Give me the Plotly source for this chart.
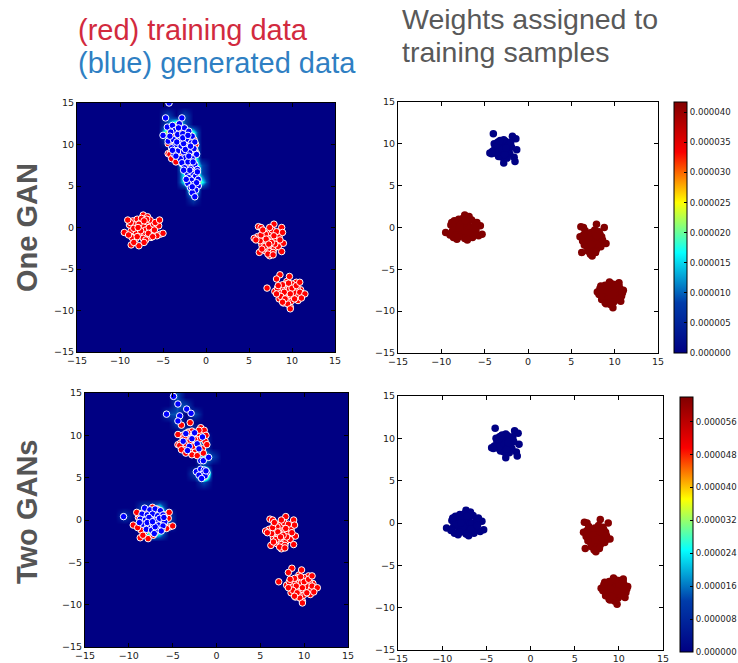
import plotly.graph_objects as go

# ---------------- data ----------------
ticks = [-15, -10, -5, 0, 5, 10, 15]
tick_text = ["\u221215", "\u221210", "\u22125", "0", "5", "10", "15"]

train_top = [(-4.0,11.2),(-1.8,10.9),(-1.4,10.6),(-4.4,8.9),(-1.3,9.3),(-1.6,8.4),(-1.5,7.9),(-2.8,7.7),
             (-3.5,10.2),(-3.2,10.4),(-2.9,10.0),(-2.6,9.8),(-3.8,9.6),(-3.4,9.4),(-3.0,9.2),(-2.4,9.5),
             (-2.2,10.1),(-3.6,8.8),(-3.1,8.6),(-2.7,9.0),(-2.0,9.8),(-3.9,10.0),(-3.3,9.9),(-2.5,8.9),
             (-2.9,9.6),(-3.7,9.3),(-2.3,9.1),(-3.0,8.4),(-3.4,8.5),(-2.6,10.3),(-4.1,9.1),(-2.1,8.8),
             (-3.2,9.7),(-2.8,10.5),(-3.5,9.0),(-1.9,9.6),(-2.4,8.3),(-3.0,9.4),(-3.6,9.9),(-2.7,8.7),
             (-4.2,8.8),(-2.0,10.2),(-3.3,10.3),(-2.5,9.5)]
train_left = [(-9.5,-0.6),(-8.5,0.8),(-7.3,1.5),(-6.8,1.3),(-5.5,0.2),(-5.3,-0.8),(-5.7,-1.0),(-8.2,-1.4),
              (-8.6,-1.2),(-6.4,-1.2),(-8.0,1.0),(-7.6,0.6),(-7.2,0.2),(-6.9,0.7),(-8.3,0.3),(-7.9,-0.2),
              (-7.4,-0.5),(-7.0,-0.3),(-6.6,0.0),(-8.7,-0.4),(-8.1,-0.7),(-7.7,-1.0),(-7.1,-0.9),(-6.3,-0.6),
              (-6.1,0.4),(-8.9,0.3),(-7.5,1.1),(-6.7,-0.7),(-8.4,-0.1),(-7.8,0.4),(-7.3,-1.3),(-6.5,0.9),
              (-9.0,-0.9),(-6.0,-0.3),(-7.6,-0.4),(-8.0,-1.1),(-6.9,1.0),(-7.2,0.8),(-5.9,0.6),(-8.8,0.6),
              (-7.0,-1.5),(-7.9,0.0)]
train_mid = [(6.1,0.1),(6.4,0.0),(7.9,0.4),(8.8,0.0),(6.0,-1.1),(6.2,-3.0),(6.9,-2.8),(7.4,-3.4),
             (8.7,-1.9),(9.0,-1.9),(7.5,-1.5),(7.2,-1.0),(7.8,-1.2),(7.0,-1.8),(7.6,-2.2),(8.1,-1.6),
             (6.7,-1.3),(7.3,-0.6),(8.3,-0.8),(6.6,-0.4),(7.9,-2.6),(7.1,-2.5),(8.4,-2.3),(6.5,-2.1),
             (7.7,-0.3),(8.5,-1.1),(6.9,-0.8),(7.4,-2.9),(8.0,-2.0),(6.3,-1.6),(7.6,-1.8),(7.0,-1.4),
             (8.2,-0.5),(6.8,-2.3),(7.8,-3.0),(8.6,-1.5),(7.3,-2.0),(6.4,-0.9),(7.9,-1.0),(7.2,-3.2)]
train_bot = [(8.0,-7.7),(9.4,-6.5),(10.5,-6.6),(11.0,-7.5),(10.7,-8.8),(9.0,-9.1),(9.8,-9.6),(8.5,-8.6),
             (9.5,-7.8),(9.2,-7.2),(9.8,-7.0),(10.1,-7.6),(8.8,-7.4),(9.0,-8.2),(9.6,-8.4),(10.2,-8.1),
             (10.6,-7.3),(8.6,-7.9),(9.3,-6.8),(10.0,-6.8),(9.9,-8.9),(9.4,-8.8),(8.9,-6.9),(10.4,-7.9),
             (8.3,-7.3),(9.7,-7.4),(10.8,-8.2),(9.1,-7.8),(8.7,-8.3),(10.3,-8.6),(9.5,-9.2),(8.4,-7.0),
             (10.0,-7.3),(9.2,-8.6),(9.8,-8.0),(10.5,-7.0),(8.9,-9.0),(10.9,-7.8),(9.6,-6.7),(8.2,-8.0)]
# extra training samples visible only in the density panels
train_extra = [(-5.4,0.9),(-5.0,-0.7),(-8.7,-2.1),(-7.8,-2.2),(-7.2,-1.8),(-8.4,-1.8),(-6.2,-1.1),(-9.1,0.9),
               (5.6,-1.3),(5.8,-1.5),(7.8,-3.3),(8.8,-2.9),(6.6,-0.3),(7.4,0.0),(8.9,-0.6),(6.5,-2.6),
               (7.1,-7.3),(8.6,-5.7),(9.8,-9.8),(11.5,-8.0),(8.2,-6.2),(11.1,-8.5),(9.7,-5.9),(10.9,-6.6),
               (-2.0,10.6),(-4.0,8.3),(-3.5,7.9),(-1.2,10.0),(-2.2,7.6),(-4.4,10.1),(-1.1,8.9),(-3.0,11.5)]

gen_one_gan = [(-4.3,15.0),(-4.7,13.2),(-2.8,13.2),(-5.0,11.1),(-4.5,12.1),(-3.9,12.3),(-3.1,12.5),(-2.5,12.0),
               (-2.0,11.6),(-3.6,11.7),(-4.1,11.5),(-3.3,11.2),(-2.7,11.3),(-1.6,11.0),(-4.4,10.4),(-3.8,10.6),
               (-3.0,10.5),(-2.3,10.6),(-1.7,10.2),(-3.5,10.0),(-2.9,9.8),(-2.2,9.7),(-4.0,9.6),(-1.4,9.5),
               (-3.3,9.2),(-2.6,9.1),(-1.9,9.0),(-1.1,8.8),(-3.7,8.8),(-2.4,8.4),(-3.0,8.3),(-1.6,8.3),
               (-2.8,7.8),(-2.1,7.9),(-1.3,7.6),(-2.5,7.2),(-1.8,7.1),(-1.0,7.0),(-2.2,6.6),(-1.5,6.4),
               (-2.0,6.0),(-1.2,6.2),(-1.7,5.7),(-0.9,5.8),(-2.1,5.3),(-1.4,5.2),(-0.9,5.0),(-1.8,4.8),
               (-1.2,4.5),(-1.6,4.2),(-1.3,3.7),(-2.6,10.1),(-3.9,9.3),(-1.3,10.3),(-2.0,8.6),(-3.2,12.0),
               (-2.4,9.4),(-1.5,7.9),(-1.9,6.9),(-2.3,5.8),(-1.1,5.4),(-3.5,8.6),(-2.7,10.8),(-1.8,9.8),
               (-4.2,11.0),(-1.0,6.7),(-2.6,6.9),(-1.6,4.9),(-2.1,11.1),(-3.4,10.3)]
gen_two_gans = [(-4.9,14.6),(-4.4,13.7),(-3.4,13.1),(-2.9,12.6),(-5.7,12.5),(-4.2,12.3),(-4.4,11.7),
                (-3.5,10.2),(-2.8,9.6),(-3.1,8.7),(-2.2,9.0),(-3.8,9.3),(-2.5,10.3),(-1.6,9.8),(-3.3,8.2),(-2.0,8.4),
                (-1.8,7.0),(-1.5,7.0),(-0.9,7.4),
                (-2.3,5.7),(-1.8,6.0),(-1.4,5.9),(-1.1,5.6),(-1.6,5.4),(-2.0,5.3),(-1.3,5.2),(-1.7,4.9),(-1.2,5.8),
                (-10.6,0.4),
                (-8.2,1.4),(-7.6,1.2),(-7.0,1.3),(-6.4,1.1),(-8.5,0.7),(-7.9,0.6),(-7.3,0.7),(-6.7,0.5),
                (-6.1,0.6),(-8.7,0.1),(-8.1,0.0),(-7.5,0.1),(-6.9,-0.1),(-6.3,0.0),(-5.9,-0.2),(-8.4,-0.5),
                (-7.8,-0.6),(-7.2,-0.5),(-6.6,-0.6),(-6.1,-0.7),(-8.0,-1.1),(-7.4,-1.2),(-6.8,-1.1),(-6.3,-1.3),
                (-7.1,-1.6),(-7.7,0.3),(-8.8,-0.3),(-6.5,0.2),(-7.0,-0.8),(-7.9,-0.3),(-6.0,0.3),(-7.3,-0.2)]

# weight per training cluster (top, left, mid, bottom)
weights_one_gan = [2.0e-7, 4.16e-5, 4.16e-5, 4.16e-5]
weights_two_gans = [3.0e-7, 3.0e-7, 6.15e-5, 6.15e-5]
cbar_ticks_one = [0, 5e-6, 10e-6, 15e-6, 20e-6, 25e-6, 30e-6, 35e-6, 40e-6]
cbar_ticks_two = [0, 8e-6, 16e-6, 24e-6, 32e-6, 40e-6, 48e-6, 56e-6]
cbar_max_one = 4.17e-5
cbar_max_two = 6.2e-5

# ---------------- build ----------------
clusters = [train_top, train_left, train_mid, train_bot]
tx = [p[0] for c in clusters for p in c]
ty = [p[1] for c in clusters for p in c]
tx_all = tx + [p[0] for p in train_extra]
ty_all = ty + [p[1] for p in train_extra]

def expand(ws):
    return [w for c, w in zip(clusters, ws) for _ in c]

W, H = 738, 663
def dx(a, b):
    return [a / W, b / W]
def dy(top, bottom):
    return [1 - bottom / H, 1 - top / H]

fig = go.Figure()

navy = "rgb(0,0,131)"
for ax, gen in (("", gen_one_gan), ("3", gen_two_gans)):
    gx = [p[0] for p in gen]
    gy = [p[1] for p in gen]
    fig.add_trace(go.Histogram2d(
        x=gx, y=gy, autobinx=False, autobiny=False,
        xbins=dict(start=-15, end=15, size=1.0), ybins=dict(start=-15, end=15, size=1.0),
        colorscale="Jet", zmin=0, zmax=4.5, zsmooth="best", showscale=False,
        xaxis="x" + ax, yaxis="y" + ax, hoverinfo="skip"))
    fig.add_trace(go.Scatter(
        x=tx_all, y=ty_all, mode="markers", xaxis="x" + ax, yaxis="y" + ax,
        marker=dict(size=6.5, color="#ff0000", line=dict(color="white", width=1))))
    fig.add_trace(go.Scatter(
        x=gx, y=gy, mode="markers", xaxis="x" + ax, yaxis="y" + ax,
        marker=dict(size=6.5, color="#0000ff", line=dict(color="white", width=1))))

for ax, ws, cmax, cticks, cx, cy in (
        ("2", weights_one_gan, cbar_max_one, cbar_ticks_one, 674, (102, 353)),
        ("4", weights_two_gans, cbar_max_two, cbar_ticks_two, 680, (397, 652))):
    fig.add_trace(go.Scatter(
        x=tx, y=ty, mode="markers", xaxis="x" + ax, yaxis="y" + ax,
        marker=dict(size=7.5, color=expand(ws), colorscale="Jet", cmin=0, cmax=cmax,
                    line=dict(width=0),
                    colorbar=dict(x=cx / W, xanchor="left", xpad=0, ypad=0,
                                  y=1 - (cy[0] + cy[1]) / 2 / H, yanchor="middle",
                                  len=(cy[1] - cy[0]) / H, lenmode="fraction",
                                  thickness=12.5, outlinewidth=1, outlinecolor="black",
                                  tickvals=cticks, tickformat=".6f", ticks="inside",
                                  ticklen=3, tickcolor="black",
                                  tickfont=dict(family="DejaVu Sans", size=8.6, color="#222")))))

axis_style = dict(range=[-15, 15], tickvals=ticks, ticktext=tick_text, ticks="inside", ticklen=4,
                  tickcolor="black", showline=True, linecolor="black", linewidth=1, mirror="ticks",
                  showgrid=False, zeroline=False, automargin=False,
                  tickfont=dict(family="DejaVu Sans", size=9.5, color="#222"))

domains = {
    "": (dx(77, 335), dy(103, 352)),
    "2": (dx(398, 658), dy(102, 353)),
    "3": (dx(85, 348), dy(393, 647)),
    "4": (dx(398, 663), dy(396, 650)),
}
layout = {}
for ax, (xd, yd) in domains.items():
    layout["xaxis" + ax] = dict(axis_style, domain=xd, anchor="y" + ax)
    layout["yaxis" + ax] = dict(axis_style, domain=yd, anchor="x" + ax)
fig.update_layout(**layout)

shapes = []
for ax in ("", "3"):
    shapes.append(dict(type="rect", xref="x" + ax, yref="y" + ax, x0=-15, x1=15, y0=-15, y1=15,
                       fillcolor=navy, line=dict(width=0), layer="below"))

ann = []
def text(s, x, y, color, size=29, bold=False, angle=0, anchor="left"):
    ann.append(dict(text=("<b>%s</b>" % s) if bold else s, x=x / W, y=1 - y / H, xref="paper", yref="paper",
                    xanchor=anchor, yanchor="middle", showarrow=False, textangle=angle,
                    font=dict(family="Liberation Sans", size=size, color=color)))

text("(red) training data", 76, 30, "#d22a3e")
text("(blue) generated data", 76, 63, "#2f7fc3")
text("Weights assigned to", 400, 19, "#595959", size=28.5)
text("training samples", 400, 52, "#595959", size=28.5)
text("One GAN", 27, 228, "#555555", size=29, bold=True, angle=-90, anchor="center")
text("Two GANs", 27, 512, "#555555", size=29, bold=True, angle=-90, anchor="center")

fig.update_layout(width=W, height=H, margin=dict(l=0, r=0, t=0, b=0, autoexpand=False),
                  paper_bgcolor="white", plot_bgcolor="white", showlegend=False,
                  shapes=shapes, annotations=ann)

fig.write_html("out.html")
